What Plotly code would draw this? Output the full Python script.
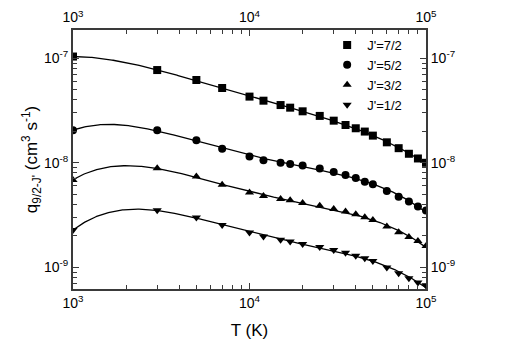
import numpy as np
import plotly.graph_objects as go

# temperatures (K)
T = [1000, 3000, 5000, 7000, 10000, 12000, 15000, 17000, 20000, 25000,
     30000, 35000, 40000, 45000, 50000, 60000, 70000, 80000, 90000, 100000]

# rate coefficients q_{9/2-J'} (cm^3 s^-1)
q_72 = [1.04e-7, 7.72e-8, 6.2e-8, 5.2e-8, 4.3e-8, 3.93e-8, 3.57e-8, 3.37e-8, 3.11e-8, 2.81e-8,
        2.53e-8, 2.30e-8, 2.14e-8, 1.99e-8, 1.82e-8, 1.57e-8, 1.38e-8, 1.22e-8, 1.10e-8, 1.0e-8]
q_52 = [2.05e-8, 2.05e-8, 1.64e-8, 1.36e-8, 1.15e-8, 1.06e-8, 1.0e-8, 9.75e-9, 9.4e-9, 8.8e-9,
        8.16e-9, 7.64e-9, 7.15e-9, 6.6e-9, 6.23e-9, 5.37e-9, 4.74e-9, 4.25e-9, 3.81e-9, 3.49e-9]
q_32 = [6.86e-9, 8.86e-9, 7.38e-9, 6.18e-9, 5.19e-9, 4.82e-9, 4.51e-9, 4.38e-9, 4.12e-9, 3.89e-9,
        3.61e-9, 3.41e-9, 3.21e-9, 3.01e-9, 2.84e-9, 2.45e-9, 2.16e-9, 1.95e-9, 1.78e-9, 1.60e-9]
q_12 = [2.27e-9, 3.51e-9, 3.0e-9, 2.54e-9, 2.15e-9, 1.97e-9, 1.83e-9, 1.76e-9, 1.67e-9, 1.56e-9,
        1.46e-9, 1.38e-9, 1.29e-9, 1.22e-9, 1.15e-9, 9.93e-10, 8.77e-10, 7.85e-10, 7.15e-10, 6.68e-10]

series = [("J'=7/2", q_72, "square"), ("J'=5/2", q_52, "circle"),
          ("J'=3/2", q_32, "triangle-up"), ("J'=1/2", q_12, "triangle-down")]

x_major = [1e3, 1e4, 1e5]
x_labels = ["10<sup>3</sup>", "10<sup>4</sup>", "10<sup>5</sup>"]
x_minor = [m * d for d in (1e3, 1e4) for m in range(2, 10)]
y_major = [1e-9, 1e-8, 1e-7]
y_labels = ["10<sup>-9</sup>", "10<sup>-8</sup>", "10<sup>-7</sup>"]
y_minor = [m * d for d in (1e-10, 1e-9, 1e-8, 1e-7) for m in range(2, 10)]

FONT = "Liberation Sans, Arial, sans-serif"
AXC = "#3a3a3a"

fig = go.Figure()

# fitted curves (polynomial in log-log space)
lt = np.log10(T)
grid = np.linspace(lt[0], lt[-1], 300)
for name, q, sym in series:
    coef = np.polyfit(lt, np.log10(q), 4)
    fig.add_trace(go.Scatter(x=10 ** grid, y=10 ** np.polyval(coef, grid), mode="lines",
                             line=dict(color="black", width=1.3),
                             showlegend=False, hoverinfo="skip"))
for name, q, sym in series:
    fig.add_trace(go.Scatter(x=T, y=q, mode="markers", name=name,
                             marker=dict(symbol=sym, size=8, color="black")))

# dummy trace so the top / right axes get drawn
fig.add_trace(go.Scatter(x=[T[0]], y=[q_72[0]], xaxis="x2", yaxis="y2", mode="markers",
                         marker=dict(opacity=0), showlegend=False, hoverinfo="skip"))

xrange = [3, 5]
yrange = [-9.208, -6.729]

def ax(rng, vals, labels, minor_vals, **kw):
    d = dict(type="log", range=rng, tickmode="array", tickvals=vals, ticktext=labels,
             ticks="inside", ticklen=6, tickwidth=1.3, tickcolor=AXC, automargin=False,
             minor=dict(tickvals=minor_vals, ticks="inside", ticklen=4, tickwidth=1.1,
                        tickcolor=AXC, showgrid=False),
             showline=True, linecolor=AXC, linewidth=2, showgrid=False, zeroline=False,
             tickfont=dict(family=FONT, size=14, color="black"))
    d.update(kw)
    return d

fig.update_layout(
    width=518, height=361,
    margin=dict(l=65, r=100, t=22, b=80),
    paper_bgcolor="white", plot_bgcolor="white",
    font=dict(family=FONT, color="black"),
    xaxis=ax(xrange, x_major, x_labels, x_minor,
             title=dict(text="T (K)", font=dict(family=FONT, size=17), standoff=14)),
    xaxis2=ax(xrange, x_major, x_labels, x_minor, overlaying="x", side="top"),
    yaxis=ax(yrange, y_major, y_labels, y_minor,
             title=dict(text="q<sub>9/2-J'</sub> (cm<sup>3</sup> s<sup>-1</sup>)",
                        font=dict(family=FONT, size=17), standoff=2)),
    yaxis2=ax(yrange, y_major, y_labels, y_minor, overlaying="y", side="right"),
    legend=dict(x=0.72, y=1.0, xanchor="left", yanchor="top", bgcolor="rgba(0,0,0,0)",
                font=dict(family=FONT, size=13), tracegroupgap=0),
    showlegend=True,
)

fig.write_html("out.html")
